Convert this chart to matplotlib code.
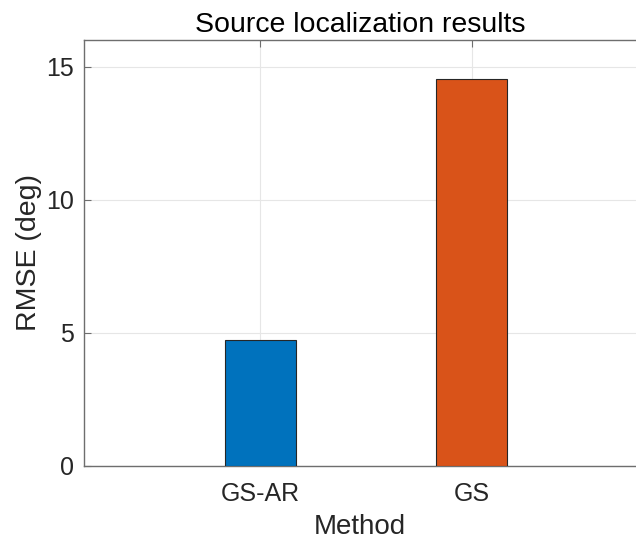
import matplotlib
matplotlib.use("Agg")
import matplotlib.pyplot as plt
import numpy as np

plt.rcParams['font.family'] = ['Liberation Sans', 'DejaVu Sans']

methods = ['GS-AR', 'GS']
rmse = [4.72, 14.52]
colors = ['#0072BD', '#D95319']

fig = plt.figure(figsize=(6.36, 5.4), dpi=100)
ax = fig.add_axes([83.5 / 636, 1 - 465.5 / 540, (637 - 83.5) / 636, (465.5 - 40) / 540])

x = np.arange(1, len(methods) + 1)
ax.bar(x, rmse, width=0.336, color=colors, edgecolor='#262626', linewidth=0.8, zorder=3)

ax.set_xlim(0.165, 2.78)
ax.set_ylim(0, 16)
ax.set_xticks(x)
ax.set_xticklabels(methods)
ax.set_yticks([0, 5, 10, 15])
ax.grid(True, color='#e6e6e6', linewidth=0.8, zorder=0)
ax.set_axisbelow(True)

for s in ['left', 'bottom', 'top']:
    ax.spines[s].set_color('#6e6e6e')
    ax.spines[s].set_linewidth(1.0)
ax.spines['right'].set_visible(False)
ax.tick_params(direction='in', length=5, color='#6e6e6e', labelsize=18,
               labelcolor='#262626', top=True)
ax.tick_params(axis='x', pad=12)
ax.tick_params(axis='y', pad=7)

ax.set_title('Source localization results', fontsize=20.5, color='black', pad=6)
ax.set_xlabel('Method', fontsize=20, color='#262626', labelpad=6)
ax.set_ylabel('RMSE (deg)', fontsize=20.5, color='#262626', labelpad=3)

fig.savefig('out.png', dpi=100)
